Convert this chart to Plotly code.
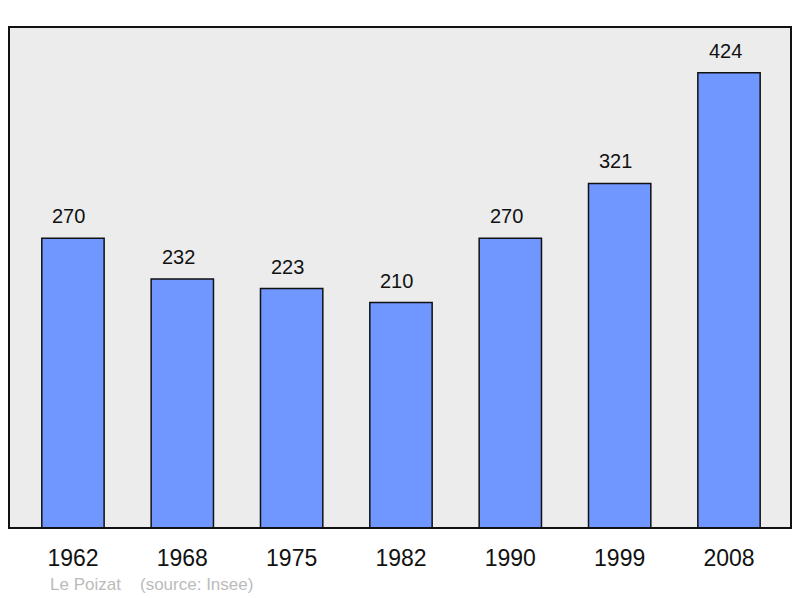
import plotly.graph_objects as go

years = ["1962", "1968", "1975", "1982", "1990", "1999", "2008"]
population = [270, 232, 223, 210, 270, 321, 424]
commune = "Le Poizat"
source = "(source: Insee)"

pos = list(range(len(years)))

# page pixels of the plot area (the page body adds an 8px offset)
left, right, top, bottom = 9, 791, 27, 528


def paper_x(px):
    return (px - left) / (right - left)


def paper_y(py):
    return (bottom - py) / (bottom - top)


fig = go.Figure()
fig.add_trace(go.Bar(
    x=pos, y=population, width=0.57,
    marker=dict(color="#7096ff", line=dict(color="#111111", width=1.5)),
    hoverinfo="skip",
))

for i, v in zip(pos, population):
    fig.add_annotation(x=i, y=v, text=str(v), showarrow=False,
                       yanchor="bottom", yshift=9, xshift=-4,
                       font=dict(size=20, color="#111111"))

fig.add_annotation(x=paper_x(48), y=paper_y(584), xref="paper", yref="paper",
                   text=commune, showarrow=False, xanchor="left", yanchor="middle",
                   font=dict(size=17, color="#bbbbbb"))
fig.add_annotation(x=paper_x(138), y=paper_y(584), xref="paper", yref="paper",
                   text=source, showarrow=False, xanchor="left", yanchor="middle",
                   font=dict(size=17, color="#bbbbbb"))

fig.add_shape(type="rect", xref="paper", yref="paper", x0=0, y0=0, x1=1, y1=1,
              line=dict(color="#111111", width=2), layer="above")

fig.update_layout(
    width=792, height=590,
    margin=dict(l=left - 8, r=800 - right, t=top - 8, b=598 - bottom),
    paper_bgcolor="white", plot_bgcolor="#ececec",
    font=dict(family="Liberation Sans, Arial, sans-serif", color="#111111"),
    showlegend=False,
    xaxis=dict(range=[-0.585, 6.567], tickvals=pos, ticktext=years,
               showgrid=False, zeroline=False, ticks="outside", ticklen=9,
               tickcolor="rgba(0,0,0,0)", tickfont=dict(size=23)),
    yaxis=dict(range=[0, 466.7], showgrid=False, zeroline=False,
               showticklabels=False),
)

fig.write_html("out.html")
